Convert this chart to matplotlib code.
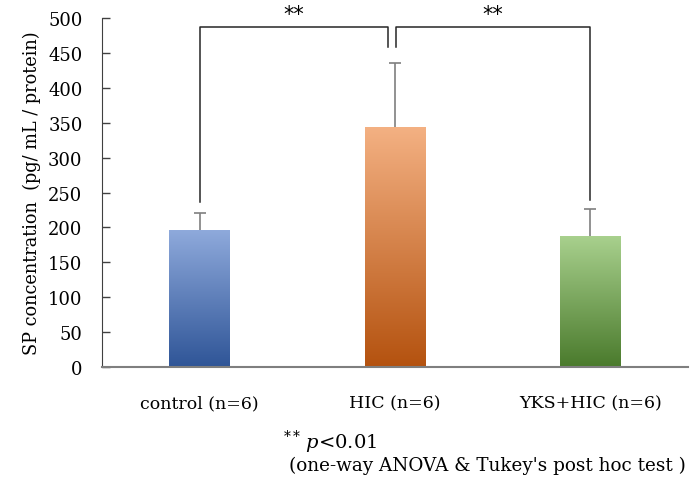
import matplotlib
matplotlib.use('Agg')
import matplotlib.pyplot as plt
import numpy as np
from matplotlib.colors import LinearSegmentedColormap

plt.rcParams['font.family'] = 'DejaVu Serif'
plt.rcParams['mathtext.fontset'] = 'custom'
plt.rcParams['mathtext.it'] = 'DejaVu Serif:italic'
plt.rcParams['mathtext.rm'] = 'DejaVu Serif'

# data
groups = ['control (n=6)', 'HIC (n=6)', 'YKS+HIC (n=6)']
means = [197, 344, 188]
sd = [24, 92, 38]
# gradient colours (top, bottom) for each bar
top_colors = ['#8FAADC', '#F4B183', '#A9D18E']
bottom_colors = ['#2F5597', '#B4520F', '#4A7A2C']

fig = plt.figure(figsize=(6.91, 4.89), dpi=100)
ax = fig.add_axes([0.1476, 0.2474, 0.8481, 0.7137])

x = np.arange(len(groups))
bars = ax.bar(x, means, width=0.31, color='none', edgecolor='none', zorder=2)

# vertical gradient fill clipped to each bar
grad = np.linspace(0, 1, 256).reshape(-1, 1)
for bar, c_top, c_bot in zip(bars, top_colors, bottom_colors):
    cmap = LinearSegmentedColormap.from_list('g', [c_bot, c_top])
    x0, w, h = bar.get_x(), bar.get_width(), bar.get_height()
    im = ax.imshow(grad, cmap=cmap, origin='lower', aspect='auto',
                   extent=[x0, x0 + w, 0, h], zorder=2)
    im.set_clip_path(bar)

# upper error bars only (stem + cap)
tops = np.array(means) + np.array(sd)
ax.vlines(x, means, tops, color='#7F7F7F', lw=1.2, zorder=3)
ax.hlines(tops, x - 0.03, x + 0.03, color='#7F7F7F', lw=1.2, zorder=3)

ax.set_xlim(-0.5, 2.5)
ax.set_ylim(0, 500)
ax.set_yticks(np.arange(0, 501, 50))
ax.set_xticks(x)
ax.set_xticklabels(groups, fontsize=12.5)
ax.tick_params(axis='x', length=0, pad=20)
ax.tick_params(axis='y', direction='in', length=6, width=1, color='#404040',
               labelsize=13, pad=14)
for s in ['top', 'right']:
    ax.spines[s].set_visible(False)
ax.spines['left'].set_color('#404040')
ax.spines['bottom'].set_color('#7F7F7F')
ax.spines['bottom'].set_linewidth(1.5)
ax.set_ylabel('SP concentration  (pg/ mL / protein)', fontsize=12.8, labelpad=5)

# significance brackets
yb = 487
lk = dict(color='#262626', lw=1.1, clip_on=False, zorder=4)
ax.plot([x[0], x[0], x[1] - 0.035, x[1] - 0.035],
        [means[0] + sd[0] + 16, yb, yb, 459], **lk)
ax.plot([x[1] + 0.005, x[1] + 0.005, x[2], x[2]],
        [459, yb, yb, means[2] + sd[2] + 14], **lk)
ax.text((x[0] + x[1]) / 2 - 0.02, yb + 4, '**', family='DejaVu Sans',
        ha='center', va='bottom', fontsize=15, clip_on=False)
ax.text((x[1] + x[2]) / 2, yb + 4, '**', family='DejaVu Sans',
        ha='center', va='bottom', fontsize=15, clip_on=False)

# footnote
fig.text(283 / 691, 1 - 442 / 489, r'$^{**}\,\mathit{p}$<0.01', fontsize=14,
         ha='left', va='center')
fig.text(289 / 691, 1 - 466 / 489, "(one-way ANOVA & Tukey's post hoc test )",
         fontsize=13.2, ha='left', va='center')

fig.savefig('out.png', dpi=100)
